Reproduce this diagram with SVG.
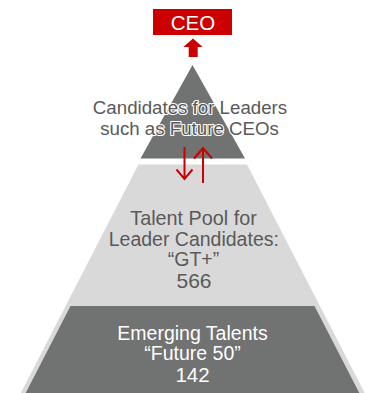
<svg xmlns="http://www.w3.org/2000/svg" width="378" height="393" viewBox="0 0 378 393">
<style>
.dark{fill:#717272}
.light{fill:#d9d9d9}
.t{font-family:"Liberation Sans",Arial,sans-serif;text-anchor:middle}
.g{fill:#595959}
.w{fill:#ffffff}
.halo{stroke:#ffffff;stroke-width:2.2;paint-order:stroke;stroke-linejoin:round}
.red{stroke:#cc0000;stroke-width:2;fill:none}
</style>
<rect width="378" height="393" fill="#ffffff"/>
<g id="level-pool">
<polygon class="light" points="138.5,164.5 247,164.5 364.7,393 20.8,393"/>
<text class="t g" font-size="19.8" x="193.5" y="225">Talent Pool for</text>
<text class="t g" font-size="19.5" x="193.8" y="245.7">Leader Candidates:</text>
<text class="t g" font-size="19.5" x="193.5" y="265.7">“GT+”</text>
<text class="t g" font-size="21" x="194" y="288.3">566</text>
</g>
<g id="level-emerging">
<polygon class="dark" points="70.5,306 314.5,306 359.3,393 25.7,393"/>
<text class="t w" font-size="19.5" x="192.5" y="339.5">Emerging Talents</text>
<text class="t w" font-size="19.5" x="192.5" y="360">“Future 50”</text>
<text class="t w" font-size="20.5" x="192.5" y="381.7">142</text>
</g>
<g id="level-candidates">
<polygon class="dark" points="192.5,65 245,158.5 140.5,158.5"/>
<text class="t g halo" font-size="18.7" x="190" y="114">Candidates for Leaders</text>
<text class="t g halo" font-size="18.7" x="189.5" y="134.7">such as Future CEOs</text>
</g>
<g id="ceo">
<rect x="153" y="9" width="79" height="26" fill="#cc0000"/>
<text class="t w" font-size="20.5" x="193" y="29.5">CEO</text>
</g>
<g id="connectors">
<polygon fill="#cc0000" points="193,38.5 202.7,47 197.7,47 197.7,57 188.7,57 188.7,47 183.3,47"/>
<path class="red" d="M184.5,147 V179 M176.5,169.5 L184.5,179 L192.5,169.5"/>
<path class="red" d="M203,183 V148 M194,158.5 L203,148 L212,158.5"/>
</g>
</svg>
